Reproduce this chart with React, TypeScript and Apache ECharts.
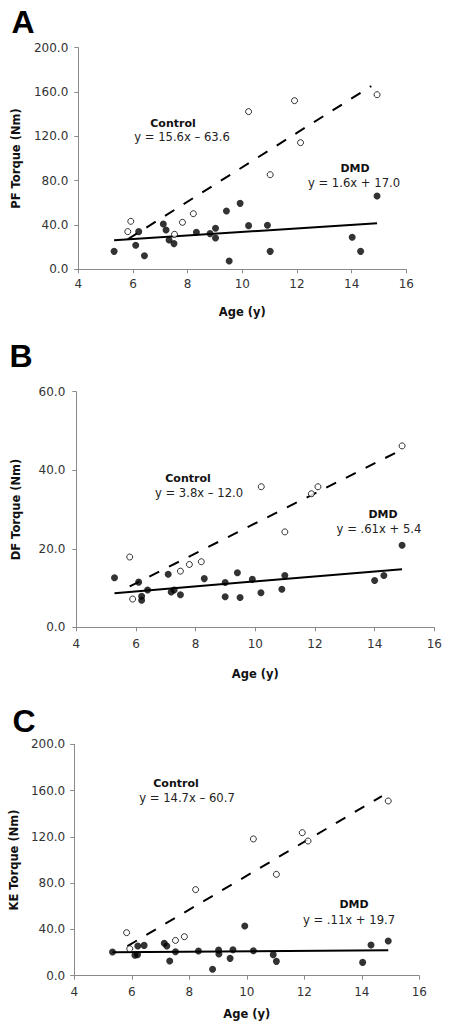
import React, { useEffect, useRef } from "react";
import * as echarts from "echarts";

// ---------- Data ----------
const xTicks = [4, 6, 8, 10, 12, 14, 16];

// Panel A — PF torque
const pfControl: [number, number][] = [
  [5.81, 34.0], [5.92, 43.3], [7.52, 31.6], [7.81, 42.4], [8.21, 50.2],
  [10.23, 142.3], [11.02, 85.4], [11.91, 152.2], [12.13, 114.3], [14.93, 157.6],
];
const pfDMD: [number, number][] = [
  [5.31, 16.2], [6.1, 21.7], [6.21, 34.0], [6.42, 12.3], [7.11, 40.9],
  [7.21, 35.5], [7.32, 26.5], [7.5, 23.2], [8.32, 33.4], [8.82, 32.2],
  [9.02, 37.0], [9.02, 28.3], [9.42, 52.6], [9.52, 7.5], [9.92, 59.5],
  [10.23, 39.4], [10.92, 39.7], [11.02, 16.2], [14.02, 28.9], [14.33, 16.2],
  [14.93, 66.2],
];
const pfControlFit: [number, number][] = [[5.81, 27.1], [14.72, 165.4]];
const pfDMDFit: [number, number][] = [[5.31, 26.2], [14.93, 41.5]];

// Panel B — DF torque
const dfControl: [number, number][] = [
  [5.79, 17.9], [5.89, 7.2], [7.49, 14.3], [7.79, 16.0], [8.19, 16.7],
  [10.2, 35.8], [10.99, 24.3], [11.88, 34.0], [12.1, 35.8], [14.92, 46.2],
];
const dfDMD: [number, number][] = [
  [5.28, 12.6], [6.09, 11.5], [6.19, 7.9], [6.19, 6.9], [6.39, 9.5],
  [7.08, 13.5], [7.18, 9.0], [7.28, 9.5], [7.49, 8.3], [8.29, 12.4],
  [8.99, 11.4], [8.99, 7.8], [9.4, 13.9], [9.49, 7.6], [9.9, 12.2],
  [10.19, 8.8], [10.89, 9.7], [10.99, 13.2], [14.0, 11.9], [14.31, 13.2],
  [14.92, 20.9],
];
const dfControlFit: [number, number][] = [[5.79, 10.4], [14.85, 45.0]];
const dfDMDFit: [number, number][] = [[5.28, 8.7], [14.92, 14.8]];

// Panel C — KE torque
const keControl: [number, number][] = [
  [5.82, 37.2], [5.93, 23.3], [7.52, 30.5], [7.83, 33.7], [8.22, 74.4],
  [10.23, 118.2], [11.03, 87.6], [11.93, 123.6], [12.13, 116.4], [14.92, 151.0],
];
const keDMD: [number, number][] = [
  [5.33, 20.5], [6.11, 17.6], [6.2, 18.2], [6.21, 25.6], [6.43, 26.2],
  [7.13, 28.0], [7.22, 25.6], [7.32, 12.7], [7.52, 20.7], [8.32, 21.3],
  [8.81, 5.5], [9.02, 22.2], [9.03, 18.7], [9.42, 15.0], [9.52, 22.5],
  [9.93, 42.9], [10.23, 21.6], [10.92, 18.2], [11.03, 12.4], [14.03, 11.5],
  [14.32, 26.5], [14.92, 30.0],
];
const keControlFit: [number, number][] = [[5.85, 25.6], [14.7, 155.3]];
const keDMDFit: [number, number][] = [[5.33, 20.2], [14.92, 21.9]];

const panelLetters = ["A", "B", "C"];
const yTitles = ["PF Torque (Nm)", "DF Torque (Nm)", "KE Torque (Nm)"];
const xTitle = "Age (y)";
const yMaxes = [200, 60, 200];
const yIntervals = [40, 20, 40];
const controlEquations = ["y = 15.6x \u2013 63.6", "y = 3.8x \u2013 12.0", "y = 14.7x \u2013 60.7"];
const dmdEquations = ["y = 1.6x + 17.0", "y = .61x + 5.4", "y = .11x + 19.7"];

const controlSets = [pfControl, dfControl, keControl];
const dmdSets = [pfDMD, dfDMD, keDMD];
const controlFits = [pfControlFit, dfControlFit, keControlFit];
const dmdFits = [pfDMDFit, dfDMDFit, keDMDFit];

// ---------- Layout ----------
const grids = [
  { left: 78.3, top: 47.7, width: 328, height: 221.6 },
  { left: 76.3, top: 391.7, width: 358, height: 235.6 },
  { left: 70.3, top: 744.3, width: 349, height: 231.4 },
];
const yNameGaps = [56, 54, 48];
const xNameGaps = [37, 41, 32];
const xLabelMargins = [9, 11, 10];
const yLabelMargins = [10, 11, 9];
const letterPos = [[23, 22], [21, 356], [24, 721]];
const ctrlLabelPos = [[173, 123], [188, 478], [176, 783]];
const ctrlEqPos = [[182, 137], [199, 493], [187, 798]];
const dmdLabelPos = [[355, 168], [383, 514], [354, 904]];
const dmdEqPos = [[354, 183], [379, 529], [349, 920]];

const FONT = "DejaVu Sans, Verdana, sans-serif";
const AXIS_COLOR = "#8a8a8a";

export default function App() {
  const ref = useRef<HTMLDivElement>(null);

  useEffect(() => {
    document.body.style.margin = "0";
    if (!ref.current) return;
    const chart = echarts.init(ref.current, undefined, { renderer: "svg" });

    const xAxes = grids.map((_, i) => ({
      type: "value",
      gridIndex: i,
      min: xTicks[0],
      max: xTicks[xTicks.length - 1],
      interval: 2,
      name: xTitle,
      nameLocation: "middle",
      nameGap: xNameGaps[i],
      nameTextStyle: { fontFamily: FONT, fontWeight: "bold", fontSize: 11.5, color: "#111" },
      axisLine: { show: true, lineStyle: { color: AXIS_COLOR, width: 1 } },
      axisTick: { show: true, length: 4, lineStyle: { color: AXIS_COLOR } },
      axisLabel: { fontFamily: FONT, fontSize: 12, color: "#333", margin: xLabelMargins[i] },
      splitLine: { show: false },
    }));

    const yAxes = grids.map((_, i) => ({
      type: "value",
      gridIndex: i,
      min: 0,
      max: yMaxes[i],
      interval: yIntervals[i],
      name: yTitles[i],
      nameLocation: "middle",
      nameRotate: 90,
      nameGap: yNameGaps[i],
      nameTextStyle: { fontFamily: FONT, fontWeight: "bold", fontSize: 11.5, color: "#111" },
      axisLine: { show: true, lineStyle: { color: AXIS_COLOR, width: 1 } },
      axisTick: { show: true, length: 4, lineStyle: { color: AXIS_COLOR } },
      axisLabel: {
        fontFamily: FONT,
        fontSize: 12,
        color: "#333",
        margin: yLabelMargins[i],
        formatter: (v: number) => v.toFixed(1),
      },
      splitLine: { show: false },
    }));

    const series: any[] = [];
    for (let i = 0; i < 3; i++) {
      series.push({
        type: "line",
        xAxisIndex: i,
        yAxisIndex: i,
        data: controlFits[i],
        showSymbol: false,
        symbol: "none",
        lineStyle: { color: "#000", width: 2, type: [11, 11] },
        silent: true,
        z: 2,
      });
      series.push({
        type: "line",
        xAxisIndex: i,
        yAxisIndex: i,
        data: dmdFits[i],
        showSymbol: false,
        symbol: "none",
        lineStyle: { color: "#000", width: 2 },
        silent: true,
        z: 2,
      });
      series.push({
        type: "scatter",
        xAxisIndex: i,
        yAxisIndex: i,
        data: controlSets[i],
        symbol: "circle",
        symbolSize: 6,
        itemStyle: { color: "#fff", borderColor: "#000", borderWidth: 1 },
        z: 3,
      });
      series.push({
        type: "scatter",
        xAxisIndex: i,
        yAxisIndex: i,
        data: dmdSets[i],
        symbol: "circle",
        symbolSize: 7,
        itemStyle: { color: "#000" },
        z: 4,
      });
    }

    const graphic: any[] = [];
    const txt = (x: number, y: number, text: string, size: number, bold: boolean, color = "#111", family = FONT) => ({
      type: "text",
      x,
      y,
      style: {
        text,
        fontFamily: family,
        fontSize: size,
        fontWeight: bold ? "bold" : "normal",
        fill: color,
        textAlign: "center",
        textVerticalAlign: "middle",
      },
    });
    for (let i = 0; i < 3; i++) {
      graphic.push(txt(letterPos[i][0], letterPos[i][1], panelLetters[i], 32, true, "#000", "Liberation Sans, Arial, sans-serif"));
      graphic.push(txt(ctrlLabelPos[i][0], ctrlLabelPos[i][1], "Control", 11, true));
      graphic.push(txt(ctrlEqPos[i][0], ctrlEqPos[i][1], controlEquations[i], 11.6, false, "#222"));
      graphic.push(txt(dmdLabelPos[i][0], dmdLabelPos[i][1], "DMD", 11, true));
      graphic.push(txt(dmdEqPos[i][0], dmdEqPos[i][1], dmdEquations[i], 11.6, false, "#222"));
    }

    chart.setOption({
      animation: false,
      backgroundColor: "#fff",
      grid: grids.map((g) => ({ ...g, containLabel: false })),
      xAxis: xAxes,
      yAxis: yAxes,
      series,
      graphic,
    });

    return () => chart.dispose();
  }, []);

  return <div ref={ref} style={{ width: 451, height: 1031 }} />;
}
